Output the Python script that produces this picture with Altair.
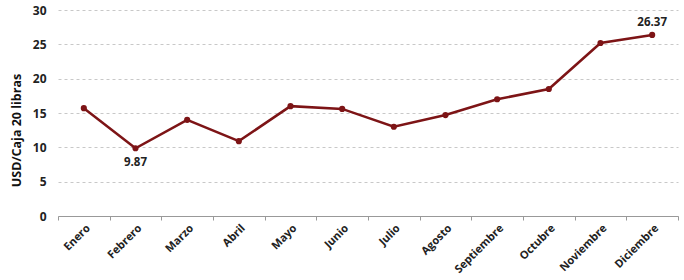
import altair as alt
import pandas as pd

months = ["Enero", "Febrero", "Marzo", "Abril", "Mayo", "Junio", "Julio",
          "Agosto", "Septiembre", "Octubre", "Noviembre", "Diciembre"]
prices = [15.7, 9.87, 14.0, 10.9, 16.0, 15.6, 13.0, 14.7, 17.0, 18.5, 25.2, 26.37]
label_below = ["Febrero"]
label_above = ["Diciembre"]

df = pd.DataFrame({"mes": months, "precio": prices})
df["etiqueta"] = df["precio"].map(lambda v: f"{v:.2f}")

FONT = "Open Sans"
COLOR = "#7d1416"

x = alt.X("mes:N", sort=months, title=None,
          scale=alt.Scale(type="band", paddingInner=0, paddingOuter=0),
          axis=alt.Axis(labelAngle=-45, tickBand="extent", labelFont=FONT,
                        labelFontWeight="bold", labelFontSize=11, labelColor="#222",
                        domainColor="#999", tickColor="#999", tickSize=4, grid=False,
                        labelPadding=2))
y = alt.Y("precio:Q", title="USD/Caja 20 libras",
          scale=alt.Scale(domain=[0, 30]),
          axis=alt.Axis(values=[0, 5, 10, 15, 20, 25, 30], labelFont=FONT,
                        labelFontWeight="bold", labelFontSize=12, labelColor="#222",
                        titleFont=FONT, titleFontWeight="bold", titleFontSize=12.5,
                        titleColor="#111", domain=False, ticks=False,
                        labelPadding=12, gridDash=[3, 3], gridColor="#c8c8c8",
                        titlePadding=9, titleY=120))

base = alt.Chart(df)
line = base.mark_line(color=COLOR, strokeWidth=2.5).encode(x=x, y=y)
pts = base.mark_point(color=COLOR, filled=True, size=38, opacity=1).encode(x=x, y=y)
txt_below = base.transform_filter(alt.FieldOneOfPredicate(field="mes", oneOf=label_below)).mark_text(
    dy=15, font=FONT, fontWeight="bold", fontSize=11.5, color="#222").encode(x=x, y=y, text="etiqueta:N")
txt_above = base.transform_filter(alt.FieldOneOfPredicate(field="mes", oneOf=label_above)).mark_text(
    dy=-12, font=FONT, fontWeight="bold", fontSize=11.5, color="#222").encode(x=x, y=y, text="etiqueta:N")

chart = alt.layer(line, pts, txt_below, txt_above).properties(
    width=620, height=206,
    autosize=alt.AutoSizeParams(type="none"),
    padding={"left": 58, "top": 10, "right": 6, "bottom": 64},
).configure(background="white", view=alt.ViewConfig(stroke="white"))

chart.save("out.html", embed_options={"renderer": "svg", "actions": False})
